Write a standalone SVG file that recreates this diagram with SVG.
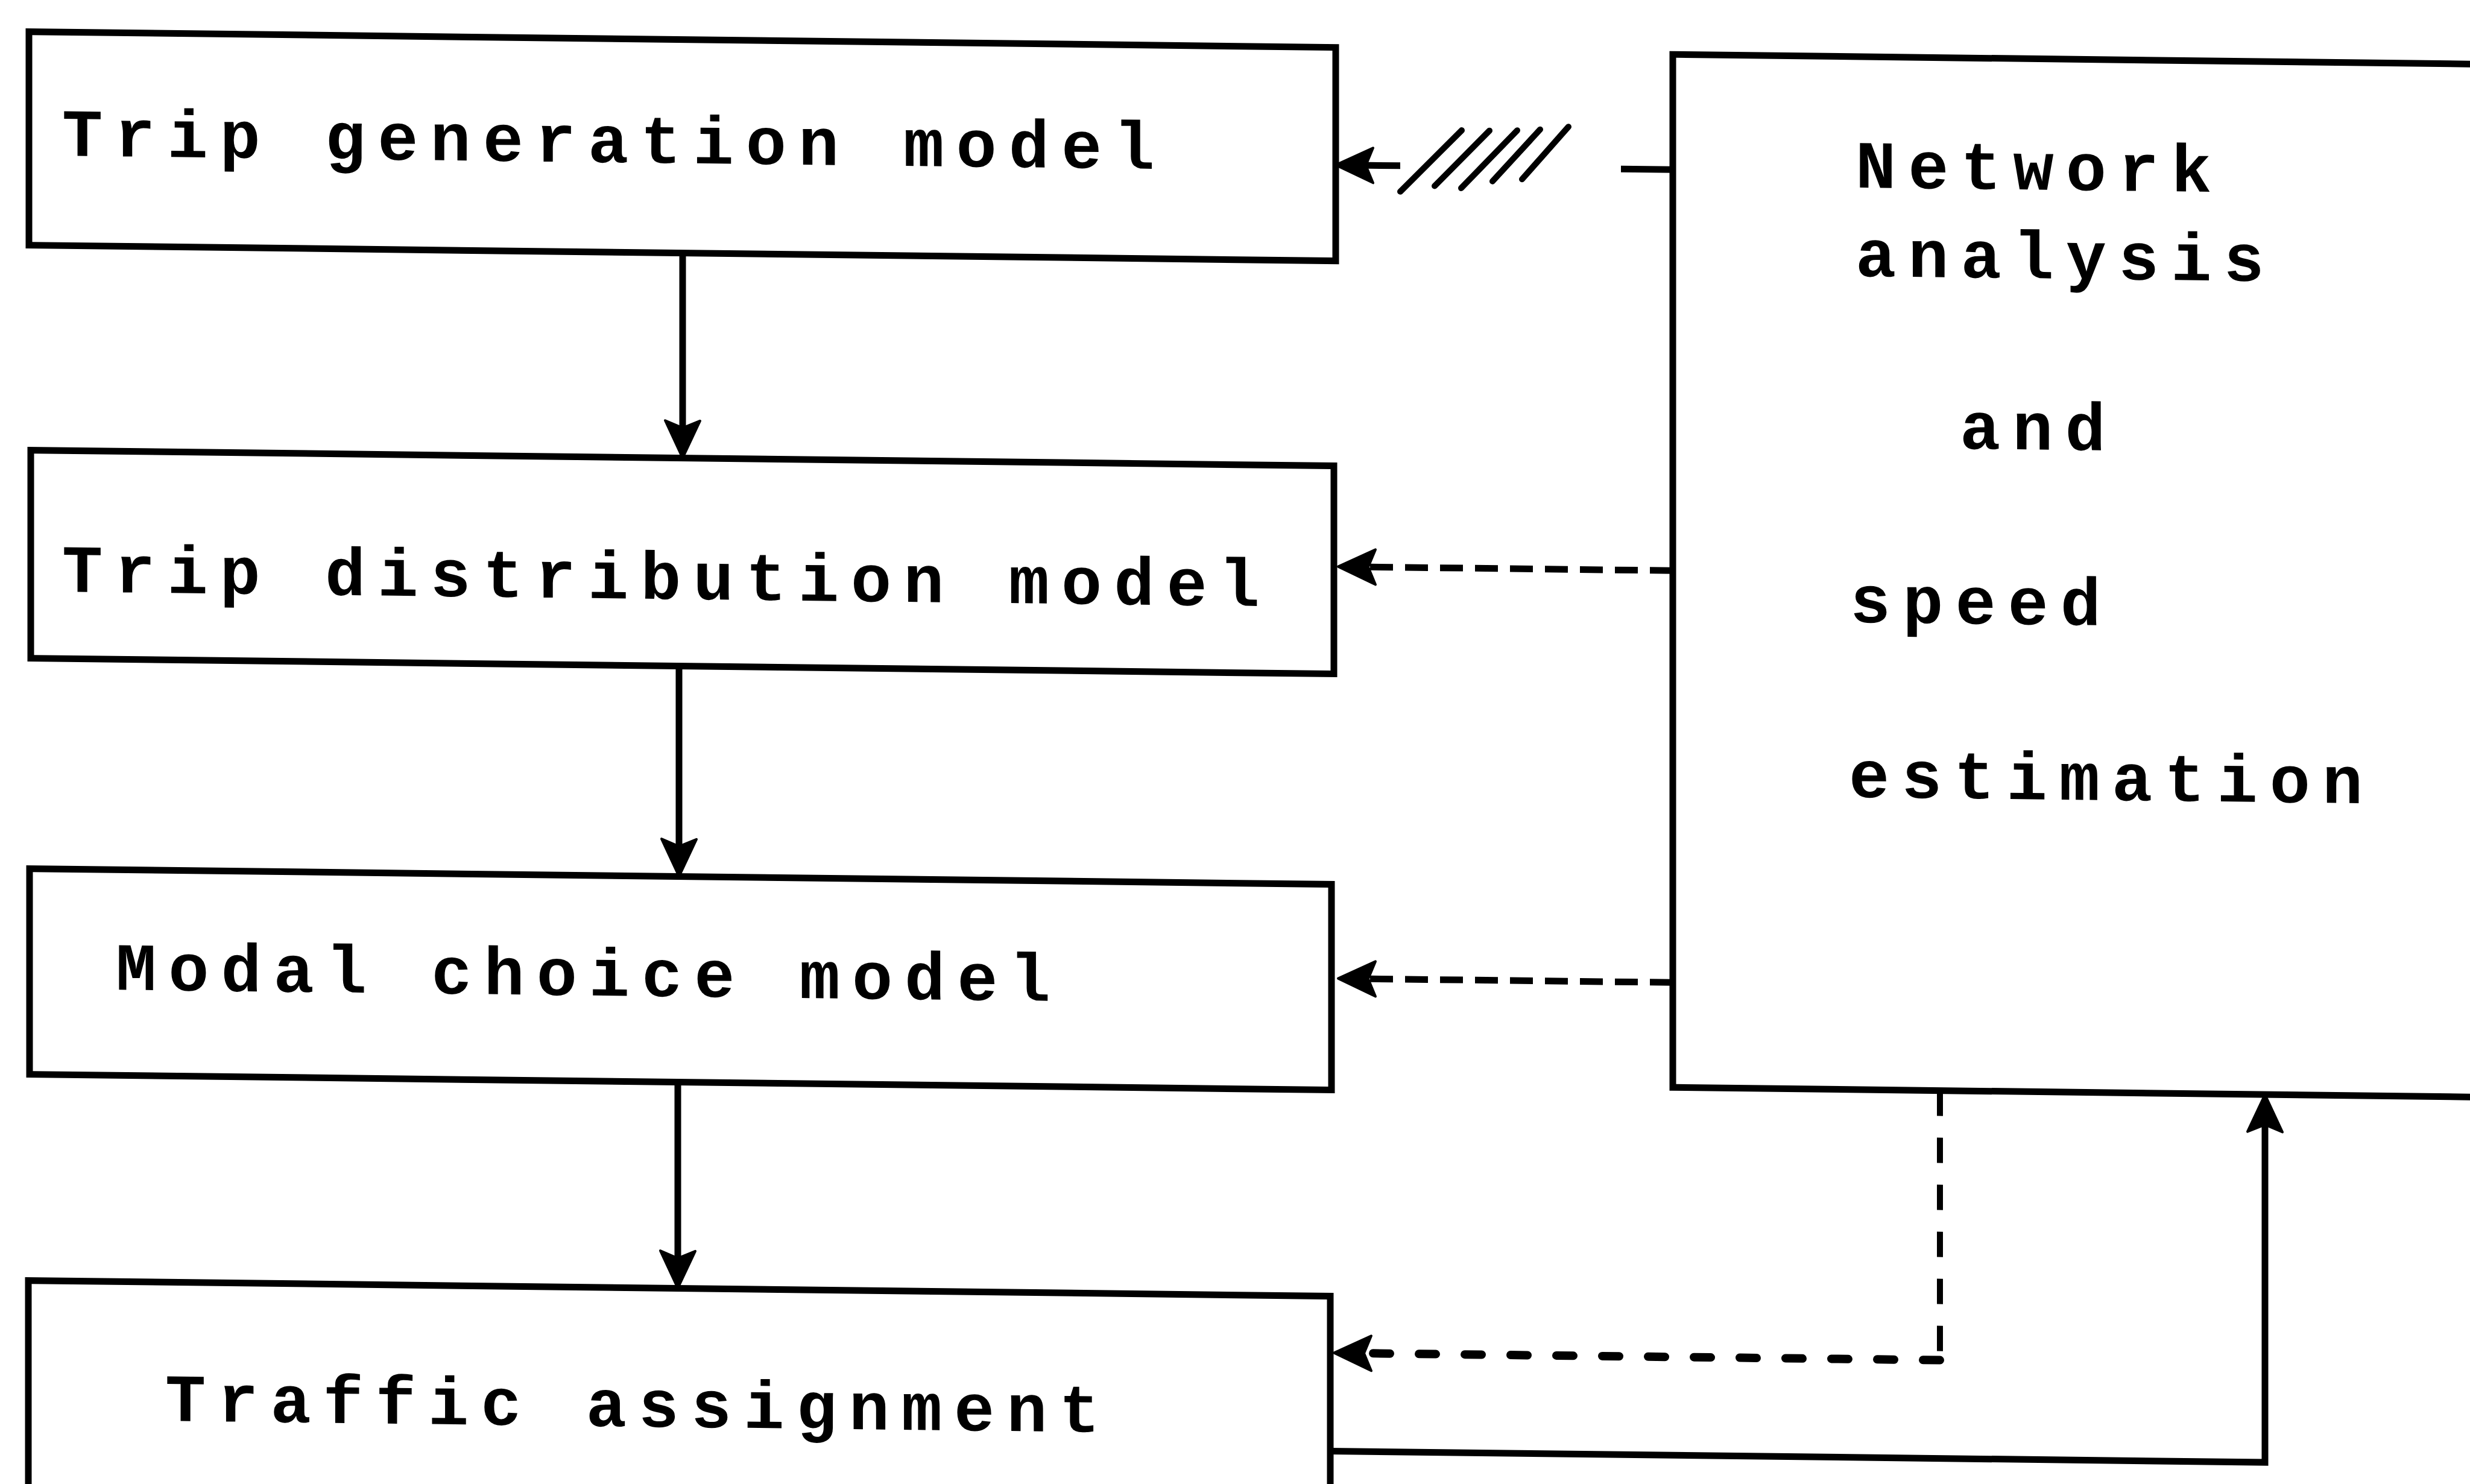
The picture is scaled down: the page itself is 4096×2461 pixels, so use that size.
<svg xmlns="http://www.w3.org/2000/svg" width="4096" height="2461" viewBox="0 0 4096 2461">
<style>
.box{fill:#fff;stroke:#000;stroke-width:11}
.lbl{font-family:"Liberation Mono","Courier New",monospace;font-weight:bold;font-size:112px;letter-spacing:20px;fill:#000}
.solid{fill:none;stroke:#000;stroke-width:11}
.dash{fill:none;stroke:#000;stroke-width:11;stroke-dasharray:38 20}
.vdash{fill:none;stroke:#000;stroke-width:10;stroke-dasharray:42 36}
.dot{fill:none;stroke:#000;stroke-width:14;stroke-dasharray:28 48;stroke-linecap:round}
.hatch{fill:none;stroke:#000;stroke-width:10;stroke-linecap:round}
</style>
<defs>
<marker id="ah" viewBox="-70 -35 100 70" refX="-20" refY="0" markerWidth="100" markerHeight="70" markerUnits="userSpaceOnUse" orient="auto">
<path d="M0,0 L-62,-29 L-50,0 L-62,29 Z" fill="#000" stroke="#000" stroke-width="4" stroke-linejoin="round"/>
</marker>
</defs>
<rect width="4096" height="2461" fill="#fff"/>
<g transform="skewY(0.6875)">
<g id="trip-generation">
<rect class="box" x="48" y="52" width="2167" height="354"/>
<text class="lbl" x="103" y="257">Trip generation model</text>
</g>
<g id="trip-distribution">
<rect class="box" x="51" y="746" width="2161" height="345"/>
<text class="lbl" x="103" y="980">Trip distribution model</text>
</g>
<g id="modal-choice">
<rect class="box" x="49" y="1440" width="2159" height="341"/>
<text class="lbl" x="192" y="1639">Modal choice model</text>
</g>
<g id="traffic-assignment">
<rect class="box" x="47" y="2123" width="2159" height="520"/>
<text class="lbl" x="274" y="2353">Traffic assignment</text>
</g>
<g id="network-analysis">
<rect class="box" x="2774" y="57" width="1500" height="1713"/>
<text class="lbl"><tspan x="3077" y="274">Network</tspan><tspan x="3077" y="421">analysis</tspan><tspan x="3250" y="705">and</tspan><tspan x="3068" y="995">speed</tspan><tspan x="3066" y="1285">estimation</tspan></text>
</g>
<g id="connectors">
<line class="solid" x1="1132" y1="406" x2="1132" y2="726" marker-end="url(#ah)"/>
<line class="solid" x1="1126" y1="1091" x2="1126" y2="1420" marker-end="url(#ah)"/>
<line class="solid" x1="1124" y1="1781" x2="1124" y2="2103" marker-end="url(#ah)"/>
<g id="hatched-link">
<line class="solid" x1="2322" y1="247" x2="2235" y2="247" marker-end="url(#ah)"/>
<line class="hatch" x1="2322" y1="290" x2="2424" y2="187"/>
<line class="hatch" x1="2379" y1="280" x2="2470" y2="187"/>
<line class="hatch" x1="2423" y1="283" x2="2516" y2="186"/>
<line class="hatch" x1="2475" y1="271" x2="2554" y2="184"/>
<line class="hatch" x1="2524" y1="267" x2="2601" y2="179"/>
<line class="solid" x1="2688" y1="248" x2="2774" y2="248"/>
</g>
<line class="dash" x1="2774" y1="913" x2="2239" y2="913" marker-end="url(#ah)"/>
<line class="dash" x1="2774" y1="1596" x2="2239" y2="1596" marker-end="url(#ah)"/>
<line class="vdash" x1="3217" y1="1770" x2="3217" y2="2217"/>
<line class="dot" x1="3217" y1="2217" x2="2232" y2="2217" marker-end="url(#ah)"/>
<path class="solid" d="M2206,2380 H3756 V1790" marker-end="url(#ah)"/>
</g>
</g>
</svg>
